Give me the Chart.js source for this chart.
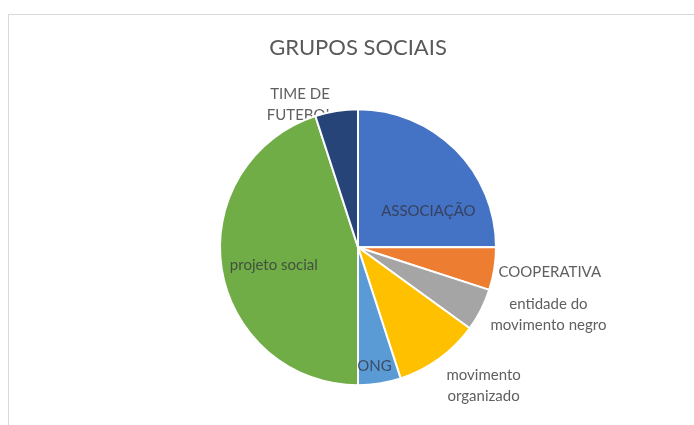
<!DOCTYPE html>
<html>
<head>
<meta charset="utf-8">
<title>Grupos sociais</title>
<script src="https://cdn.jsdelivr.net/npm/chart.js@4/dist/chart.umd.min.js"></script>
<style>
  html, body { margin: 0; padding: 0; background: #fff; overflow: hidden; }
  #box {
    position: absolute; left: 8px; top: 14px;
    width: 700px; height: 420px;
    border: 1px solid #d9d9d9; box-sizing: border-box;
  }
  #box canvas { display: block; }
</style>
</head>
<body>
<div id="box"><canvas id="pie" width="698" height="418"></canvas></div>
<script>
// ------------------ dados ------------------
const CATEGORIAS = [
  "ASSOCIAÇÃO",
  "COOPERATIVA",
  "entidade do movimento negro",
  "movimento organizado",
  "ONG",
  "projeto social",
  "TIME DE FUTEBOL"
];
const VALORES = [5, 1, 1, 2, 1, 9, 1];
const CORES = ["#4472C4", "#ED7D31", "#A5A5A5", "#FFC000", "#5B9BD5", "#70AD47", "#264478"];

// rotulos: linhas de texto, deslocamento em fracao do raio, e se fica por baixo das fatias
const ROTULOS = [
  { linhas: ["ASSOCIAÇÃO"], dx: 0.51, dy: -0.26, baixo: false },
  { linhas: ["COOPERATIVA"], dx: 1.39, dy: 0.18, baixo: true },
  { linhas: ["entidade do", "movimento negro"], dx: 1.38, dy: 0.49, baixo: true },
  { linhas: ["movimento", "organizado"], dx: 0.91, dy: 1.0, baixo: true },
  { linhas: ["ONG"], dx: 0.12, dy: 0.86, baixo: false },
  { linhas: ["projeto social"], dx: -0.61, dy: 0.13, baixo: false },
  { linhas: ["TIME DE", "FUTEBOL"], dx: -0.42, dy: -1.03, baixo: true }
];

const FONTE = "Lato, 'Open Sans', sans-serif";

// os de fora ficam em cinza, os de dentro escuros sobre a cor da fatia
function desenhaRotulos(chart, baixo) {
  const arc = chart.getDatasetMeta(0).data[0];
  if (!arc) return;
  const r = arc.outerRadius, cx = arc.x, cy = arc.y;
  const ctx = chart.ctx;
  ctx.save();
  ctx.font = "15px " + FONTE;
  ctx.fillStyle = baixo ? "#5f5f5f" : "rgba(50,50,60,0.75)";
  ctx.textAlign = "center";
  ctx.textBaseline = "middle";
  ROTULOS.forEach(l => {
    if (l.baixo !== baixo) return;
    const x = cx + l.dx * r, y = cy + l.dy * r;
    const lh = 21;
    const y0 = y - (l.linhas.length - 1) * lh / 2;
    l.linhas.forEach((t, i) => ctx.fillText(t, x, y0 + i * lh));
  });
  ctx.restore();
}

const rotulosPlugin = {
  id: "rotulosPlugin",
  beforeDatasetsDraw(chart) { desenhaRotulos(chart, true); },
  afterDatasetsDraw(chart) { desenhaRotulos(chart, false); }
};

new Chart(document.getElementById("pie"), {
  type: "pie",
  data: {
    labels: CATEGORIAS,
    datasets: [{
      data: VALORES,
      backgroundColor: CORES,
      borderColor: "#ffffff",
      borderWidth: 2,
      radius: 138
    }]
  },
  options: {
    responsive: false,
    animation: false,
    layout: { padding: { bottom: 9 } },
    plugins: {
      legend: { display: false },
      tooltip: { enabled: false },
      title: {
        display: true,
        text: "GRUPOS SOCIAIS",
        color: "#595959",
        font: { family: FONTE, size: 22, weight: "normal" },
        padding: { top: 20, bottom: 9 }
      }
    }
  },
  plugins: [rotulosPlugin]
});
</script>
</body>
</html>
